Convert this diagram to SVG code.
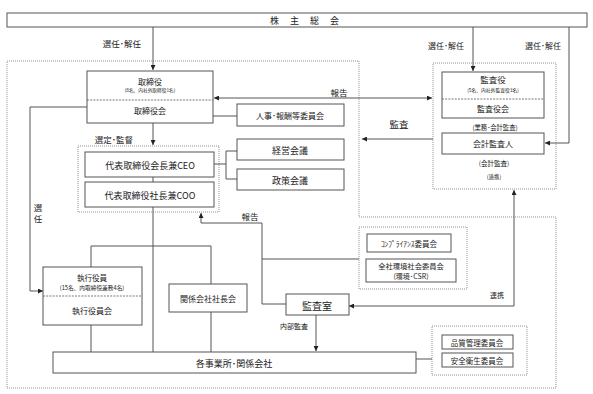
<svg xmlns="http://www.w3.org/2000/svg" width="593" height="394" viewBox="0 0 593 394">
<style>
.b{fill:#fff;stroke:#555;stroke-width:1}
.d{fill:none;stroke:#777;stroke-width:0.8;stroke-dasharray:1,1}
.dv{stroke:#555;stroke-width:0.8;stroke-dasharray:2,1.2}
.c{fill:none;stroke:#555;stroke-width:1}
text{font-family:"Noto Sans CJK JP","Noto Sans CJK SC",sans-serif;fill:#1a1a1a;text-anchor:middle;dominant-baseline:central}
</style>
<defs>
<marker id="a" viewBox="0 0 6 6" refX="6" refY="3" markerWidth="5" markerHeight="5" markerUnits="userSpaceOnUse" orient="auto-start-reverse"><path d="M0,0 L6,3 L0,6 z" fill="#222"/></marker>
</defs>
<rect width="593" height="394" fill="#fff"/>
<g id="regions">
<path class="d" d="M7,61 H359 V217 H556 V388 H7 Z"/>
<rect id="audit-group" class="d" x="433" y="63" width="123" height="126"/>
<rect id="exec-group" class="d" x="78" y="146" width="141" height="66"/>
<rect id="compliance-group" class="d" x="359" y="227" width="108" height="62"/>
<rect id="quality-group" class="d" x="432" y="326" width="95" height="49"/>
</g>
<g id="connectors">
<path class="c" d="M153,27 V70" marker-end="url(#a)"/>
<path class="c" d="M473,27 V71" marker-end="url(#a)"/>
<path class="c" d="M569,27 V143 H545" marker-end="url(#a)"/>
<path class="c" d="M214,98 H432" marker-start="url(#a)" marker-end="url(#a)"/>
<path class="c" d="M213,116 H237"/>
<path class="c" d="M433,139 H362" marker-end="url(#a)"/>
<path class="c" d="M153,123 V145" marker-end="url(#a)"/>
<path class="c" d="M214,164 H226 M226,151 V179 M226,151 H237 M226,179 H237"/>
<path class="c" d="M153,177 V182"/>
<path class="c" d="M153,207 V352"/>
<path class="c" d="M91,267 V246 H211 V284"/>
<path class="c" d="M91,325 V352"/>
<path class="c" d="M211,312 V352"/>
<path class="c" d="M87,107 H30 V291 H43" marker-end="url(#a)"/>
<path class="c" d="M286,304 H262 V223 H201 V213" marker-end="url(#a)"/>
<path class="c" d="M262,259 H359"/>
<path class="c" d="M349,306 H514 V190" marker-start="url(#a)" marker-end="url(#a)"/>
<path class="c" d="M316,315 V351" marker-end="url(#a)"/>
<path class="c" d="M416,359 H432"/>
</g>
<g id="labels">
<text x="122" y="43" font-size="8.5">選任･解任</text>
<text x="446" y="45" font-size="8">選任･解任</text>
<text x="543" y="45" font-size="8">選任･解任</text>
<text x="339" y="92" font-size="8.5">報告</text>
<text x="399" y="124" font-size="9.5">監査</text>
<text x="114" y="139" font-size="8.5">選定･監督</text>
<text x="38" y="207" font-size="8.5">選</text>
<text x="38" y="218" font-size="8.5">任</text>
<text x="250" y="216" font-size="8.5">報告</text>
<text x="497" y="295" font-size="7">連携</text>
<text x="294" y="326" font-size="7">内部監査</text>
</g>
<g id="shareholders">
<rect class="b" x="7" y="13" width="580" height="14"/>
<text x="310" y="20" font-size="9" letter-spacing="11">株主総会</text>
</g>
<g id="board">
<rect class="b" x="87" y="71" width="126" height="52"/>
<line class="dv" x1="87" y1="100" x2="213" y2="100"/>
<text x="150" y="81" font-size="8">取締役</text>
<text x="150" y="90" font-size="4.7">(8名、内社外取締役1名)</text>
<text x="150" y="110" font-size="8">取締役会</text>
</g>
<g id="hr-committee">
<rect class="b" x="237" y="104" width="107" height="22"/>
<text x="290" y="115" font-size="8">人事･報酬等委員会</text>
</g>
<g id="auditors">
<rect class="b" x="442" y="72" width="102" height="46"/>
<line class="dv" x1="442" y1="99" x2="544" y2="99"/>
<text x="493" y="79" font-size="8.5">監査役</text>
<text x="493" y="89" font-size="4.8">(5名、内社外監査役3名)</text>
<text x="493" y="108" font-size="8">監査役会</text>
<text x="495" y="127" font-size="6.3">(業務･会計監査)</text>
</g>
<g id="accounting-auditor">
<rect class="b" x="442" y="133" width="102" height="21"/>
<text x="493" y="143" font-size="8">会計監査人</text>
<text x="494" y="163" font-size="6.5">(会計監査)</text>
<text x="494" y="177" font-size="5.5">(連携)</text>
</g>
<g id="ceo">
<rect class="b" x="85" y="152" width="129" height="25"/>
<text x="150" y="165" font-size="9">代表取締役会長兼CEO</text>
</g>
<g id="coo">
<rect class="b" x="85" y="182" width="129" height="25"/>
<text x="150" y="195" font-size="9">代表取締役社長兼COO</text>
</g>
<g id="management-meeting">
<rect class="b" x="237" y="139" width="107" height="21"/>
<text x="290" y="150" font-size="9">経営会議</text>
</g>
<g id="policy-meeting">
<rect class="b" x="237" y="169" width="107" height="21"/>
<text x="290" y="180" font-size="9">政策会議</text>
</g>
<g id="executive-officers">
<rect class="b" x="43" y="267" width="99" height="58"/>
<line class="dv" x1="43" y1="296" x2="142" y2="296"/>
<text x="92" y="277" font-size="7.5">執行役員</text>
<text x="92" y="287" font-size="5.7">(15名、内取締役兼務4名)</text>
<text x="92" y="310" font-size="8">執行役員会</text>
</g>
<g id="affiliates-presidents">
<rect class="b" x="169" y="284" width="78" height="28"/>
<text x="208" y="298" font-size="8">関係会社社長会</text>
</g>
<g id="audit-office">
<rect class="b" x="286" y="294" width="63" height="21"/>
<text x="317" y="305" font-size="10">監査室</text>
</g>
<g id="compliance">
<rect class="b" x="367" y="234" width="84" height="18"/>
<text x="409" y="243" font-size="7.5">ｺﾝﾌﾟﾗｲｱﾝｽ委員会</text>
</g>
<g id="environment">
<rect class="b" x="366" y="259" width="90" height="23"/>
<text x="411" y="266" font-size="7.3">全社環境社会委員会</text>
<text x="411" y="276" font-size="7">(環境･CSR)</text>
</g>
<g id="sites">
<rect class="b" x="53" y="352" width="363" height="21"/>
<text x="234" y="363" font-size="9">各事業所･関係会社</text>
</g>
<g id="quality">
<rect class="b" x="442" y="335" width="71" height="14"/>
<text x="477" y="342" font-size="7.5">品質管理委員会</text>
</g>
<g id="safety">
<rect class="b" x="442" y="353" width="71" height="14"/>
<text x="477" y="360" font-size="7.5">安全衛生委員会</text>
</g>
</svg>
